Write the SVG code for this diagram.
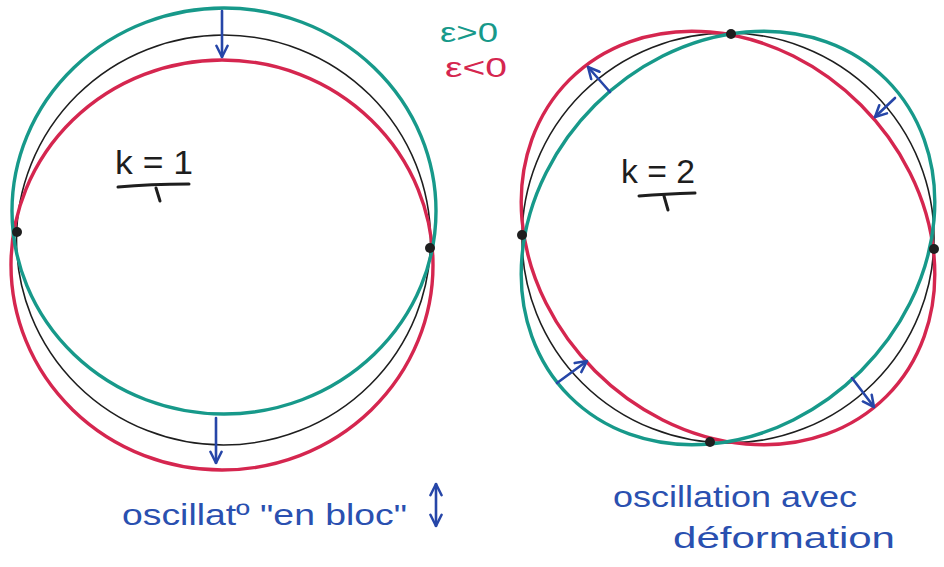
<svg xmlns="http://www.w3.org/2000/svg" width="944" height="567" viewBox="0 0 944 567">
<defs>
<style>
.bk{fill:none;stroke:#1e1e1e;stroke-width:1.6}
.tl{fill:none;stroke:#17998a;stroke-width:3.4}
.rd{fill:none;stroke:#d5264f;stroke-width:3.4}
.ar{fill:none;stroke:#2646a8;stroke-width:2.6;stroke-linecap:round}
.dot{fill:#1e1e1e}
.hw{font-family:"Liberation Sans",Arial,sans-serif;fill:#2a50b0}
.kt{font-family:"Liberation Sans",Arial,sans-serif;fill:#1e1e1e;font-size:34px}
.ul{fill:none;stroke:#1e1e1e;stroke-width:3;stroke-linecap:round}
</style>
<marker id="ah" viewBox="0 0 10 10" refX="9" refY="5" markerWidth="14" markerHeight="14" markerUnits="userSpaceOnUse" orient="auto-start-reverse">
<path d="M1,1 L9,5 L1,9" fill="none" stroke="#2646a8" stroke-width="1.8" stroke-linejoin="round" stroke-linecap="round"/>
</marker>
</defs>
<rect width="944" height="567" fill="#ffffff"/>

<g id="mode-k1">
<ellipse class="bk" cx="223.5" cy="240" rx="207" ry="205"/>
<ellipse class="rd" cx="222" cy="265" rx="211" ry="205"/>
<ellipse class="tl" cx="224" cy="211" rx="212" ry="203"/>
<circle class="dot" cx="17" cy="232" r="5"/>
<circle class="dot" cx="430" cy="248" r="5"/>
</g>

<g id="mode-k2">
<ellipse class="bk" cx="728" cy="238" rx="206" ry="205"/>
<ellipse class="rd" cx="728" cy="238" rx="224" ry="188" transform="rotate(45 728 238)"/>
<ellipse class="tl" cx="728" cy="238" rx="224" ry="188" transform="rotate(-45 728 238)"/>
<circle class="dot" cx="522" cy="235" r="5"/>
<circle class="dot" cx="934" cy="249" r="5"/>
<circle class="dot" cx="731" cy="34" r="5"/>
<circle class="dot" cx="710" cy="442" r="5"/>
</g>

<g id="legend">
<text class="hw" x="440" y="42" font-size="28" textLength="58" lengthAdjust="spacingAndGlyphs" style="fill:#17998a">ε&gt;0</text>
<text class="hw" x="445" y="77" font-size="28" textLength="62" lengthAdjust="spacingAndGlyphs" style="fill:#d5264f">ε&lt;0</text>
</g>

<g id="label-k1">
<text class="kt" x="115" y="174" textLength="78" lengthAdjust="spacingAndGlyphs">k = 1</text>
<path class="ul" d="M118,187 Q150,184 189,184"/>
<path class="ul" d="M156,188 L160,201"/>
</g>

<g id="label-k2">
<text class="kt" x="621" y="183" textLength="74" lengthAdjust="spacingAndGlyphs">k = 2</text>
<path class="ul" d="M639,196 Q665,194 695,193"/>
<path class="ul" d="M664,196 L668,210"/>
</g>

<g id="caption-k1">
<text class="hw" x="122" y="525" font-size="30" textLength="285" lengthAdjust="spacingAndGlyphs">oscillatº "en bloc"</text>
</g>

<g id="caption-k2">
<text class="hw" x="613" y="507" font-size="30" textLength="244" lengthAdjust="spacingAndGlyphs">oscillation avec</text>
<text class="hw" x="673" y="548" font-size="30" textLength="222" lengthAdjust="spacingAndGlyphs">déformation</text>
</g>

<g id="connectors">
<line class="ar" x1="222" y1="11" x2="222" y2="57" marker-end="url(#ah)"/>
<line class="ar" x1="216" y1="418" x2="216" y2="463" marker-end="url(#ah)"/>
<line class="ar" x1="436" y1="484" x2="436" y2="526" marker-start="url(#ah)" marker-end="url(#ah)"/>
<line class="ar" x1="610" y1="92" x2="588" y2="67" marker-end="url(#ah)"/>
<line class="ar" x1="895" y1="98" x2="875" y2="117" marker-end="url(#ah)"/>
<line class="ar" x1="557" y1="383" x2="587" y2="361" marker-end="url(#ah)"/>
<line class="ar" x1="852" y1="378" x2="874" y2="407" marker-end="url(#ah)"/>
</g>
</svg>
